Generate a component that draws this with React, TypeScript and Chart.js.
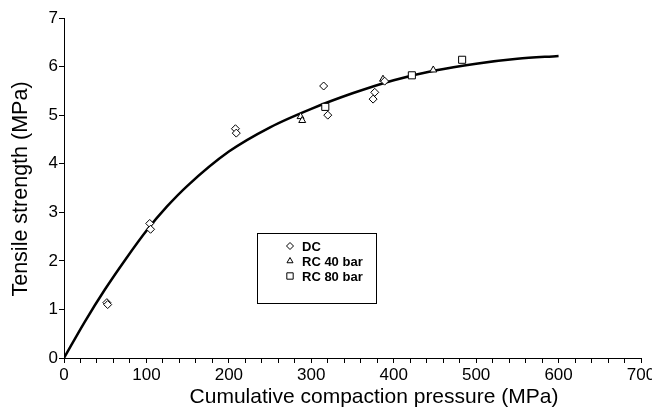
import React, { useEffect, useRef } from 'react';
import { Chart, registerables } from 'chart.js';
import { drawPoint } from 'chart.js/helpers';

Chart.register(...registerables);

// Fitted curve (MPa -> MPa)
const fitPressure = [0, 25, 50, 75, 100, 125, 150, 200, 250, 300, 350, 400, 450, 500, 550, 600];
const fitStrength = [0, 0.74, 1.42, 2.04, 2.62, 3.12, 3.55, 4.25, 4.75, 5.13, 5.45, 5.72, 5.92, 6.06, 6.16, 6.22];

// DC
const dcPressure = [52, 53, 104, 105, 208, 209, 315, 320, 377, 375, 389];
const dcStrength = [1.14, 1.1, 2.77, 2.65, 4.72, 4.63, 5.6, 5.0, 5.47, 5.33, 5.7];

// RC 40 bar
const rc40Pressure = [287, 289, 387, 448];
const rc40Strength = [4.97, 4.89, 5.74, 5.93];

// RC 80 bar
const rc80Pressure = [317, 422, 483];
const rc80Strength = [5.17, 5.82, 6.14];

const xTitle = 'Cumulative compaction pressure (MPa)';
const yTitle = 'Tensile strength (MPa)';
const xMin = 0, xMax = 700, xStep = 20, xLabelStep = 100;
const yMin = 0, yMax = 7, yStep = 1;

const FONT = '"Liberation Sans", Arial, Helvetica, sans-serif';

const toPts = (xs: number[], ys: number[]) => xs.map((x, i) => ({ x, y: ys[i] }));

const overlayPlugin = {
  id: 'overlay',
  afterDraw(chart: any) {
    const ctx = chart.ctx as CanvasRenderingContext2D;
    ctx.save();
    // axis titles
    ctx.fillStyle = '#000';
    ctx.font = `21px ${FONT}`;
    ctx.textAlign = 'center';
    ctx.textBaseline = 'middle';
    ctx.fillText(xTitle, 374, 397);
    ctx.save();
    ctx.translate(21, 189);
    ctx.rotate(-Math.PI / 2);
    ctx.font = `21.5px ${FONT}`;
    ctx.fillText(yTitle, 0, 0);
    ctx.restore();

    // legend box
    ctx.strokeStyle = '#000';
    ctx.lineWidth = 1;
    ctx.strokeRect(257.5, 233.5, 119, 70);
    ctx.font = `bold 13px ${FONT}`;
    ctx.textAlign = 'left';
    ctx.textBaseline = 'middle';
    const items = chart.data.datasets.slice(1);
    items.forEach((ds: any, i: number) => {
      const y = 246 + i * 15;
      ctx.fillStyle = '#fff';
      ctx.strokeStyle = '#000';
      ctx.lineWidth = 1;
      drawPoint(ctx, { pointStyle: ds.pointStyle, radius: ds.legendRadius, rotation: 0, borderWidth: 1 } as any, 290, y);
      ctx.fillStyle = '#000';
      ctx.fillText(ds.label, 302, y + 1);
    });
    ctx.restore();
  },
};

export default function App() {
  const ref = useRef<HTMLCanvasElement>(null);
  useEffect(() => {
    if (!ref.current) return;
    const marker = { borderColor: '#000', backgroundColor: '#fff', borderWidth: 1, showLine: false };
    const chart = new Chart(ref.current, {
      type: 'scatter',
      data: {
        datasets: [
          {
            label: 'fit',
            data: toPts(fitPressure, fitStrength),
            showLine: true,
            borderColor: '#000',
            backgroundColor: '#000',
            borderWidth: 2.5,
            pointRadius: 0,
            cubicInterpolationMode: 'monotone',
            fill: false,
            order: 10,
          } as any,
          { label: 'DC', data: toPts(dcPressure, dcStrength), pointStyle: 'rectRot', pointRadius: 4, legendRadius: 3.5, ...marker } as any,
          { label: 'RC 40 bar', data: toPts(rc40Pressure, rc40Strength), pointStyle: 'triangle', pointRadius: 4, legendRadius: 3.5, ...marker } as any,
          { label: 'RC 80 bar', data: toPts(rc80Pressure, rc80Strength), pointStyle: 'rect', pointRadius: 5, legendRadius: 4.5, ...marker } as any,
        ],
      },
      options: {
        responsive: false,
        animation: false,
        layout: { padding: { top: 18, right: 11, left: 0, bottom: 0 } },
        plugins: { legend: { display: false }, tooltip: { enabled: false }, title: { display: false } },
        scales: {
          x: {
            type: 'linear',
            min: xMin,
            max: xMax,
            ticks: {
              stepSize: xStep,
              autoSkip: false,
              maxRotation: 0,
              color: '#000',
              padding: 2,
              font: { family: FONT, size: 17 },
              callback: (v: any) => (Number(v) % xLabelStep === 0 ? String(v) : ''),
            },
            grid: { drawOnChartArea: false, color: '#000', tickLength: 5, lineWidth: 1 },
            border: { color: '#000', width: 1 },
            afterFit: (s: any) => {
              s.height = 50;
              s.paddingLeft = 0;
              s.paddingRight = 0;
            },
          },
          y: {
            min: yMin,
            max: yMax,
            ticks: {
              stepSize: yStep,
              color: '#000',
              padding: 1,
              font: { family: FONT, size: 17 },
            },
            grid: { drawOnChartArea: false, color: '#000', tickLength: 5, lineWidth: 1 },
            border: { color: '#000', width: 1 },
            afterFit: (s: any) => {
              s.width = 64;
            },
          },
        },
      },
      plugins: [overlayPlugin],
    });
    return () => chart.destroy();
  }, []);
  return (
    <div style={{ position: 'fixed', left: 0, top: 0, width: 652, height: 408, background: '#fff' }}>
      <canvas ref={ref} width={652} height={408} style={{ width: 652, height: 408, display: 'block' }} />
    </div>
  );
}
